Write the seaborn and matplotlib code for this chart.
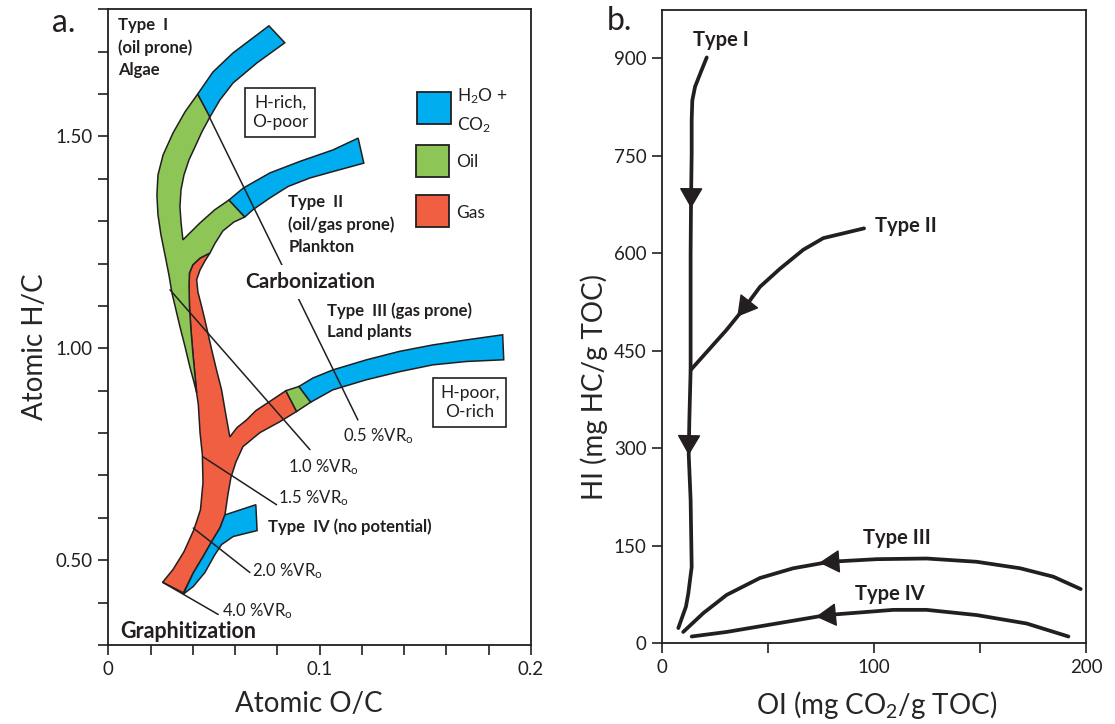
import matplotlib
matplotlib.use("Agg")
import matplotlib.pyplot as plt
import seaborn as sns
import pandas as pd
from matplotlib.ticker import MultipleLocator, FuncFormatter
from matplotlib.patches import Rectangle

# ---------------- panel a: van Krevelen maturation bands (atomic O/C, atomic H/C) ----------------
type1_co2_oc = [0.0760, 0.0835, 0.0702, 0.0590, 0.0528, 0.0481, 0.0423, 0.0495, 0.0590]
type1_co2_hc = [1.761, 1.721, 1.673, 1.626, 1.586, 1.546, 1.600, 1.652, 1.697]

oil_main_oc = [0.0423, 0.0363, 0.0306, 0.0259, 0.0235, 0.0230, 0.0235, 0.0249, 0.0268, 0.0287,
               0.0301, 0.0320, 0.0339, 0.0363, 0.0386, 0.0405, 0.0418,
               0.0412, 0.0400, 0.0391, 0.0384, 0.0382, 0.0384, 0.0400, 0.0434, 0.0481,
               0.0504, 0.0542, 0.0594, 0.0646, 0.0571,
               0.0504, 0.0434, 0.0353,
               0.0344, 0.0339, 0.0344, 0.0358, 0.0382, 0.0410, 0.0443, 0.0481]
oil_main_hc = [1.600, 1.558, 1.508, 1.456, 1.409, 1.362, 1.315, 1.268, 1.221, 1.173,
               1.131, 1.091, 1.051, 1.004, 0.956, 0.921, 0.895,
               0.926, 0.989, 1.044, 1.098, 1.150, 1.178, 1.197, 1.213, 1.225,
               1.247, 1.277, 1.298, 1.310, 1.350,
               1.327, 1.296, 1.256,
               1.298, 1.334, 1.374, 1.409, 1.445, 1.475, 1.511, 1.546]

gas_oc = [0.0481, 0.0434, 0.0400, 0.0384, 0.0382, 0.0384, 0.0391, 0.0400, 0.0412, 0.0418,
          0.0426, 0.0434, 0.0445, 0.0448, 0.0436, 0.0405, 0.0358, 0.0306, 0.0257,
          0.0355,
          0.0402, 0.0449, 0.0489, 0.0528, 0.0552,
          0.0566, 0.0580, 0.0604, 0.0637, 0.0717, 0.0812, 0.0891,
          0.0840,
          0.0765, 0.0698, 0.0654, 0.0609, 0.0575,
          0.0552, 0.0536, 0.0512, 0.0489, 0.0457, 0.0442, 0.0424, 0.0418, 0.0434, 0.0457]
gas_hc = [1.225, 1.213, 1.197, 1.178, 1.150, 1.098, 1.044, 0.989, 0.926, 0.895,
          0.867, 0.801, 0.749, 0.683, 0.619, 0.572, 0.520, 0.478, 0.448,
          0.423,
          0.470, 0.509, 0.544, 0.576, 0.607,
          0.655, 0.695, 0.732, 0.768, 0.801, 0.827, 0.851,
          0.900,
          0.875, 0.853, 0.831, 0.813, 0.791,
          0.855, 0.902, 0.949, 0.997, 1.067, 1.098, 1.133, 1.162, 1.185, 1.206]

type3_oil_oc = [0.0840, 0.0902, 0.0958, 0.0891]
type3_oil_hc = [0.900, 0.910, 0.873, 0.851]

type3_co2_oc = [0.0902, 0.0968, 0.1062, 0.1222, 0.1379, 0.1535, 0.1695, 0.1866,
                0.1871, 0.1695, 0.1535, 0.1379, 0.1222, 0.1062, 0.0958]
type3_co2_hc = [0.910, 0.930, 0.949, 0.973, 0.993, 1.008, 1.020, 1.032,
                0.973, 0.969, 0.961, 0.945, 0.926, 0.902, 0.873]

type2_co2_oc = [0.0571, 0.0638, 0.0765, 0.0906, 0.1062, 0.1182, 0.1209, 0.1062, 0.0954,
                0.0851, 0.0765, 0.0684, 0.0646]
type2_co2_hc = [1.350, 1.378, 1.414, 1.441, 1.468, 1.496, 1.437, 1.417, 1.402,
                1.382, 1.355, 1.327, 1.310]

type4_co2_oc = [0.0552, 0.0698, 0.0704, 0.0591, 0.0536, 0.0504, 0.0457, 0.0402, 0.0355,
                0.0402, 0.0449, 0.0489, 0.0528]
type4_co2_hc = [0.607, 0.631, 0.570, 0.556, 0.537, 0.513, 0.471, 0.438, 0.420,
                0.470, 0.509, 0.544, 0.576]

# vitrinite reflectance iso-lines: start / end (O/C, H/C) and label anchor
vr_labels = ["0.5 %VR", "1.0 %VR", "1.5 %VR", "2.0 %VR", "4.0 %VR"]
vr_start_oc = [0.0478, 0.0292, 0.0448, 0.0402, 0.0257]
vr_start_hc = [1.546, 1.138, 0.744, 0.576, 0.448]
vr_end_oc = [0.1181, 0.0954, 0.0796, 0.0670, 0.0520]
vr_end_hc = [0.831, 0.761, 0.631, 0.471, 0.372]
vr_text_oc = [0.1111, 0.0851, 0.0804, 0.0678, 0.0536]
vr_text_hc = [0.780, 0.707, 0.635, 0.462, 0.3675]

# ---------------- panel b: pseudo van Krevelen (OI, HI) evolution paths ----------------
type1_oi = [21.1, 18.5, 15.6, 14.3, 14.0, 14.0, 13.7, 13.5, 13.5, 13.5, 12.9, 12.6, 13.5, 14.0, 12.4, 11.3, 7.7]
type1_hi = [901, 880, 856, 835, 805, 754, 682, 600, 500, 420, 343, 290, 220, 117, 76, 56, 23]
type2_oi = [95.3, 76.1, 66.6, 55.7, 46.2, 39.2, 30.5, 13.5]
type2_hi = [638, 623, 605, 576, 548, 517, 482, 420]
type3_oi = [197.5, 184.6, 168.9, 148.4, 124.8, 101.3, 79.2, 61.9, 46.2, 30.5, 19.5, 10.0]
type3_hi = [83, 102, 115, 125, 130, 129, 125, 115, 100, 74, 46, 17]
type4_oi = [191.7, 172.0, 148.4, 124.8, 109.1, 93.4, 77.7, 54.1, 30.5, 14.0]
type4_hi = [10, 30, 43, 51, 51, 47, 43, 30, 17, 10]

arrow_tail_oi = [13.8, 12.8, 42.0, 90.0, 88.0]
arrow_tail_hi = [705, 325, 529, 127, 45.5]
arrow_tip_oi = [13.7, 12.6, 35.5, 74.2, 72.6]
arrow_tip_hi = [669, 289, 502, 123.5, 40.5]

path_names = ["Type I", "Type II", "Type III", "Type IV"]
path_label_oi = [14.6, 100.5, 94.8, 91.0]
path_label_hi = [918, 633, 152, 66]

BLUE = "#00AEEF"
GREEN = "#8DC657"
RED = "#F15F42"
INK = "#231F20"

sns.set_theme(style="ticks")
plt.rcParams["font.family"] = ["Lato", "DejaVu Sans"]
plt.rcParams["mathtext.fontset"] = "custom"
plt.rcParams["mathtext.rm"] = "Lato"
plt.rcParams["mathtext.it"] = "Lato:italic"
plt.rcParams["mathtext.bf"] = "Lato:bold"
plt.rcParams["axes.edgecolor"] = INK
plt.rcParams["axes.linewidth"] = 1.3
plt.rcParams["text.color"] = INK

fig = plt.figure(figsize=(11.15, 7.24), dpi=100)
ax1 = fig.add_axes([108.3 / 1115, 79 / 724, 422.7 / 1115, 635.7 / 724])
ax2 = fig.add_axes([662 / 1115, 81 / 724, 424 / 1115, 633 / 724])

# ---- panel a ----
band_kw = dict(edgecolor=INK, linewidth=1.1, zorder=2)
ax1.fill(gas_oc, gas_hc, facecolor=RED, **band_kw)
ax1.fill(oil_main_oc, oil_main_hc, facecolor=GREEN, **band_kw)
ax1.fill(type1_co2_oc, type1_co2_hc, facecolor=BLUE, **band_kw)
ax1.fill(type2_co2_oc, type2_co2_hc, facecolor=BLUE, **band_kw)
ax1.fill(type3_oil_oc, type3_oil_hc, facecolor=GREEN, **band_kw)
ax1.fill(type3_co2_oc, type3_co2_hc, facecolor=BLUE, **band_kw)
ax1.fill(type4_co2_oc, type4_co2_hc, facecolor=BLUE, **band_kw)

for lab, x0, y0, x1, y1, tx, ty in zip(vr_labels, vr_start_oc, vr_start_hc, vr_end_oc, vr_end_hc,
                                       vr_text_oc, vr_text_hc):
    seg = pd.DataFrame({"oc": [x0, x1], "hc": [y0, y1]})
    sns.lineplot(data=seg, x="oc", y="hc", ax=ax1, color=INK, lw=1.1, sort=False,
                 estimator=None, zorder=3)
    ax1.text(tx, ty, lab + r"$_\mathregular{o}$", fontsize=12, ha="left", va="baseline", zorder=6)

bold_kw = dict(fontweight="bold", ha="left", va="baseline", zorder=6)
ax1.text(0.0046, 1.751, "Type  I", fontsize=12, **bold_kw)
ax1.text(0.0046, 1.696, "(oil prone)", fontsize=12, **bold_kw)
ax1.text(0.0046, 1.645, "Algae", fontsize=12, **bold_kw)
ax1.text(0.0851, 1.334, "Type  II", fontsize=12, **bold_kw)
ax1.text(0.0851, 1.2795, "(oil/gas prone)", fontsize=12, **bold_kw)
ax1.text(0.0851, 1.228, "Plankton", fontsize=12, **bold_kw)
ax1.text(0.0646, 1.142, "Carbonization", fontsize=15,
         bbox=dict(boxstyle="square,pad=0.35", facecolor="white", edgecolor="none"), **bold_kw)
ax1.text(0.1033, 1.0767, "Type  III (gas prone)", fontsize=12, **bold_kw)
ax1.text(0.1033, 1.0264, "Land plants", fontsize=12, **bold_kw)
ax1.text(0.0756, 0.5656, "Type  IV (no potential)", fontsize=12, **bold_kw)
ax1.text(0.0055, 0.3165, "Graphitization", fontsize=15.5, **bold_kw)

box_kw = dict(fontsize=12.5, ha="center", va="center", linespacing=1.25, zorder=6,
              bbox=dict(boxstyle="square,pad=0.4", facecolor="white", edgecolor=INK, linewidth=1.2))
ax1.text(0.0813, 1.557, "H-rich,\nO-poor", **box_kw)
ax1.text(0.1710, 0.8726, "H-poor,\nO-rich", **box_kw)

# colour key
key_colors = [BLUE, GREEN, RED]
key_y0 = [0.819, 0.7357, 0.6571]
key_x0 = [0.731, 0.728, 0.728]
for c, x0, y0 in zip(key_colors, key_x0, key_y0):
    ax1.add_patch(Rectangle((x0, y0), 0.079, 0.0513, transform=ax1.transAxes,
                            facecolor=c, edgecolor=INK, linewidth=1.3, zorder=6))
key_text = [r"H$_\mathregular{2}$O +", r"CO$_\mathregular{2}$", "Oil", "Gas"]
key_text_y = [0.8547, 0.8101, 0.7515, 0.6712]
for t, y in zip(key_text, key_text_y):
    ax1.text(0.824, y, t, transform=ax1.transAxes, fontsize=12.5, ha="left", va="baseline")

ax1.set_xlim(0, 0.2)
ax1.set_ylim(0.3, 1.8)
ax1.xaxis.set_major_locator(MultipleLocator(0.1))
ax1.xaxis.set_minor_locator(MultipleLocator(0.02))
ax1.yaxis.set_major_locator(MultipleLocator(0.5))
ax1.yaxis.set_minor_locator(MultipleLocator(0.1))
ax1.xaxis.set_major_formatter(FuncFormatter(lambda v, p: "0" if abs(v) < 1e-9 else f"{v:.1f}"))
ax1.yaxis.set_major_formatter(FuncFormatter(lambda v, p: f"{v:.2f}"))
ax1.set_xlabel("Atomic O/C", fontsize=20)
ax1.set_ylabel("Atomic H/C", fontsize=20)
ax1.xaxis.set_label_coords(0.475, -0.072)
ax1.yaxis.set_label_coords(-0.143, 0.469)

# ---- panel b ----
paths = [(type1_oi, type1_hi), (type2_oi, type2_hi), (type3_oi, type3_hi), (type4_oi, type4_hi)]
for name, (xs, ys) in zip(path_names, paths):
    df = pd.DataFrame({"OI": xs, "HI": ys})
    sns.lineplot(data=df, x="OI", y="HI", ax=ax2, color=INK, lw=2.7, sort=False, estimator=None,
                 zorder=3)
for x0, y0, x1, y1 in zip(arrow_tail_oi, arrow_tail_hi, arrow_tip_oi, arrow_tip_hi):
    ax2.annotate("", xy=(x1, y1), xytext=(x0, y0),
                 arrowprops=dict(arrowstyle="-|>,head_length=1.3,head_width=0.75",
                                 mutation_scale=10, color=INK, lw=1.0,
                                 shrinkA=0, shrinkB=0), zorder=4)
for name, x, y in zip(path_names, path_label_oi, path_label_hi):
    ax2.text(x, y, name, fontsize=14.5, fontweight="bold", ha="left", va="baseline")

ax2.set_xlim(0, 200)
ax2.set_ylim(0, 974)
ax2.xaxis.set_major_locator(MultipleLocator(100))
ax2.xaxis.set_minor_locator(MultipleLocator(50))
ax2.yaxis.set_major_locator(MultipleLocator(150))
ax2.set_xlabel(r"OI (mg CO$_\mathregular{2}$/g TOC)", fontsize=20)
ax2.set_ylabel("HI (mg HC/g TOC)", fontsize=20)
ax2.xaxis.set_label_coords(0.507, -0.072)
ax2.yaxis.set_label_coords(-0.128, 0.404)

for ax in (ax1, ax2):
    for s in ax.spines.values():
        s.set_visible(True)
        s.set_color(INK)
    ax.tick_params(which="both", direction="out", length=7.2, width=1.2, color=INK,
                   labelsize=13.5, pad=4, labelcolor=INK)
    ax.set_facecolor("white")

fig.text(52 / 1115, 1 - 32 / 724, "a.", fontsize=23, ha="left", va="baseline")
fig.text(607 / 1115, 1 - 30 / 724, "b.", fontsize=23, ha="left", va="baseline")

fig.savefig("out.png", dpi=100, facecolor="white")
